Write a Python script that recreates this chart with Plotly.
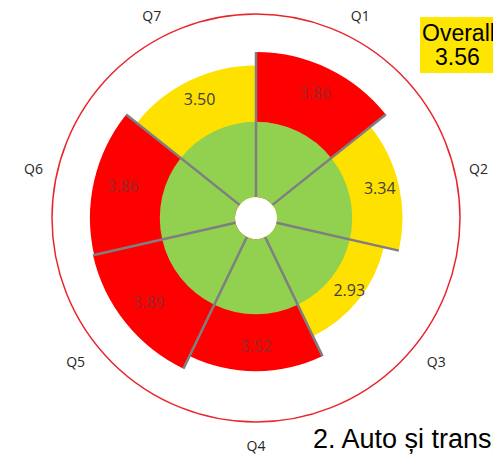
import plotly.graph_objects as go

# ---- data ----
questions = ["Q1", "Q2", "Q3", "Q4", "Q5", "Q6", "Q7"]
scores = [3.86, 3.34, 2.93, 3.52, 3.89, 3.86, 3.50]
inner_level = 2.0
overall = 3.56
title_text = "2. Auto și transport"

# ---- styles ----
RED = "#FF0000"
YELLOW = "#FFE100"
GREEN = "#92D050"
GRAY = "#7F7F7F"
bar_colors = [RED if s > 3.5 else YELLOW for s in scores]
text_colors = ["#942A2A" if c == RED else "#404040" for c in bar_colors]

n = len(questions)
step = 360.0 / n
centers = [step * (i + 0.5) for i in range(n)]

fig = go.Figure()

# outer score bars
fig.add_trace(go.Barpolar(
    r=scores, theta=centers, width=[step] * n, base=0,
    marker=dict(color=bar_colors, line=dict(width=0)),
    hoverinfo="skip", showlegend=False,
))

# inner green disc
fig.add_trace(go.Barpolar(
    r=[inner_level] * n, theta=centers, width=[step] * n, base=0,
    marker=dict(color=GREEN, line=dict(width=0)),
    hoverinfo="skip", showlegend=False,
))

# gray radial separators, each reaching the longer adjacent bar
lr, lt = [], []
for i in range(n):
    reach = max(scores[i - 1], scores[i])
    ang = step * i
    lr += [0, reach, None]
    lt += [ang, ang, None]
fig.add_trace(go.Scatterpolar(
    r=lr, theta=lt, mode="lines",
    line=dict(color=GRAY, width=2.5),
    hoverinfo="skip", showlegend=False,
))

# value labels
fig.add_trace(go.Scatterpolar(
    r=[(inner_level + s) / 2 + 0.15 for s in scores], theta=centers,
    mode="text", text=[f"{s:.2f}" for s in scores],
    textfont=dict(family="Open Sans", size=16, color=text_colors),
    hoverinfo="skip", showlegend=False,
))

fig.update_layout(
    width=493, height=456,
    margin=dict(l=0, r=0, t=0, b=0),
    paper_bgcolor="white",
    polar=dict(
        barmode="overlay",
        domain=dict(x=[52 / 493, 460 / 493], y=[1 - 422 / 456, 1 - 14 / 456]),
        bgcolor="white",
        radialaxis=dict(range=[-0.56, 4.87], visible=False),
        angularaxis=dict(
            rotation=90, direction="clockwise",
            tickmode="array", tickvals=centers, ticktext=questions,
            showgrid=False, showline=True, linecolor="#E8262B", linewidth=1.5,
            ticks="outside", ticklen=11, tickcolor="rgba(0,0,0,0)",
            tickfont=dict(family="Open Sans", size=14, color="#262626"),
        ),
    ),
    shapes=[dict(type="rect", xref="paper", yref="paper",
                 x0=420 / 493, x1=1.0, y0=1 - 73 / 456, y1=1 - 17 / 456,
                 fillcolor="#FFE600", line=dict(width=0), layer="below")],
    annotations=[
        dict(text="Overall", xref="paper", yref="paper",
             x=458 / 493, y=1 - 33 / 456, xanchor="center", yanchor="middle",
             showarrow=False, font=dict(family="Liberation Sans", size=23, color="black")),
        dict(text=f"{overall:.2f}", xref="paper", yref="paper",
             x=457 / 493, y=1 - 57 / 456, xanchor="center", yanchor="middle",
             showarrow=False, font=dict(family="Liberation Sans", size=23, color="black")),
        dict(text=title_text, xref="paper", yref="paper",
             x=311 / 493, y=1 - 439 / 456, xanchor="left", yanchor="middle",
             showarrow=False, font=dict(family="Liberation Sans", size=27, color="black")),
    ],
)

fig.write_html("out.html", config={"displayModeBar": False},
               post_script="document.body.style.margin='0';document.body.style.overflow='hidden';")
